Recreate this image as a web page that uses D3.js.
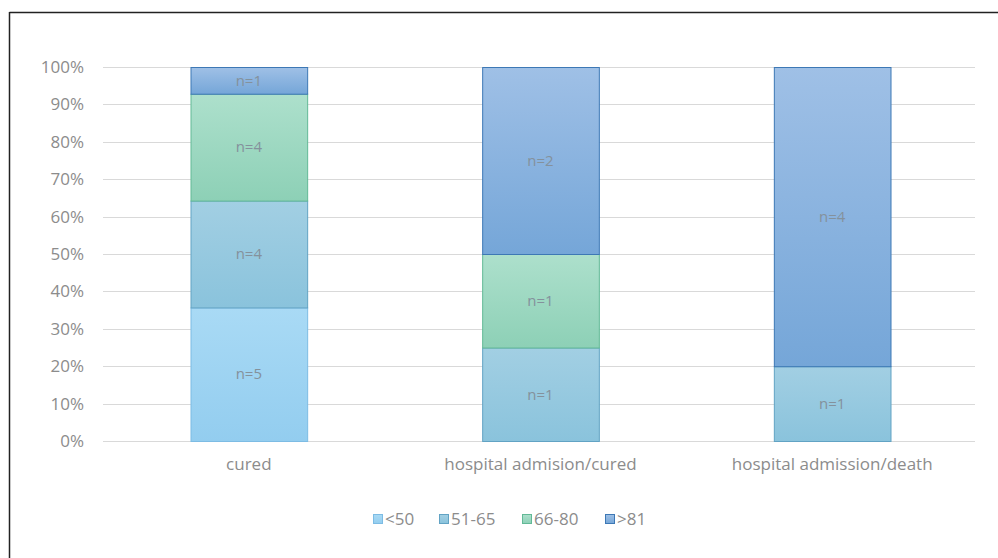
<!DOCTYPE html>
<html>
<head>
<meta charset="utf-8">
<script src="https://cdn.jsdelivr.net/npm/d3@7"></script>
<style>
  html, body { margin: 0; padding: 0; background: #fff; }
  svg { display: block; }
  text { font-family: "Open Sans", "DejaVu Sans", sans-serif; }
</style>
</head>
<body>
<svg id="chart" width="998" height="558"></svg>
<script>
// Outcome categories and patient counts per age group
const categories = ["cured", "hospital admision/cured", "hospital admission/death"];
const ageGroups = ["<50", "51-65", "66-80", ">81"];
const under50   = [5, 0, 0];
const age51to65 = [4, 1, 1];
const age66to80 = [4, 1, 0];
const over81    = [1, 2, 4];
const yTicks = [0, 0.1, 0.2, 0.3, 0.4, 0.5, 0.6, 0.7, 0.8, 0.9, 1.0];

const seriesValues = [under50, age51to65, age66to80, over81];

// Fill gradients (top / bottom) and outline per age group
const palette = [
  { top: "#a9daf5", bottom: "#93cdef", stroke: "#7dbce4" },
  { top: "#a2cfe3", bottom: "#8ac3dc", stroke: "#62a3c4" },
  { top: "#ade0cc", bottom: "#8dd0b6", stroke: "#62b996" },
  { top: "#9fc0e6", bottom: "#75a6d8", stroke: "#3d78b5" }
];

const svg = d3.select("#chart");
const W = 998, H = 558;
const margin = { left: 103, right: 20, top: 67, bottom: 117 };

// Frame lines along top and left
svg.append("line").attr("x1", 9.5).attr("x2", W).attr("y1", 12.5).attr("y2", 12.5)
  .attr("stroke", "#222").attr("stroke-width", 1.5);
svg.append("line").attr("x1", 9.5).attr("x2", 9.5).attr("y1", 12).attr("y2", H)
  .attr("stroke", "#222").attr("stroke-width", 1.5);

const defs = svg.append("defs");
palette.forEach((p, i) => {
  const g = defs.append("linearGradient").attr("id", "grad" + i)
    .attr("x1", 0).attr("y1", 0).attr("x2", 0).attr("y2", 1);
  g.append("stop").attr("offset", "0%").attr("stop-color", p.top);
  g.append("stop").attr("offset", "100%").attr("stop-color", p.bottom);
});

const x = d3.scaleBand().domain(categories)
  .range([margin.left, 978]).paddingInner(0.6).paddingOuter(0.3);
const y = d3.scaleLinear().domain([0, 1]).range([441, 67]);

// Gridlines
svg.append("g").selectAll("line").data(yTicks).join("line")
  .attr("x1", margin.left).attr("x2", 975)
  .attr("y1", d => Math.round(y(d)) + 0.5).attr("y2", d => Math.round(y(d)) + 0.5)
  .attr("stroke", "#d9d9d9").attr("stroke-width", 1);

// Y axis labels
const yAxis = d3.axisLeft(y).tickValues(yTicks).tickFormat(d3.format(".0%")).tickSize(0).tickPadding(0);
const yg = svg.append("g").attr("transform", "translate(84,0)").call(yAxis);
yg.select(".domain").remove();
yg.attr("font-size", null).attr("font-family", null);
yg.selectAll("text").attr("fill", "#8c8c8c").style("font-size", "17px");

// Stacked percentages
const rows = categories.map((c, i) => {
  const row = { category: c };
  const total = d3.sum(seriesValues, s => s[i]);
  ageGroups.forEach((g, k) => { row[g] = seriesValues[k][i] / total; row["n" + g] = seriesValues[k][i]; });
  return row;
});
const stacked = d3.stack().keys(ageGroups)(rows);

const layers = svg.append("g").selectAll("g").data(stacked).join("g")
  .attr("fill", (d, i) => `url(#grad${i})`)
  .attr("stroke", (d, i) => palette[i].stroke);

layers.selectAll("rect").data(d => d.filter(s => s[1] - s[0] > 0)).join("rect")
  .attr("x", d => x(d.data.category) + 0.5)
  .attr("width", x.bandwidth())
  .attr("y", d => y(d[1]) + 0.5)
  .attr("height", d => y(d[0]) - y(d[1]))
  .attr("stroke-width", 1);

// Count labels inside segments
stacked.forEach((layer, i) => {
  svg.append("g").selectAll("text").data(layer.filter(s => s[1] - s[0] > 0)).join("text")
    .attr("x", d => x(d.data.category) + x.bandwidth() / 2)
    .attr("y", d => (y(d[0]) + y(d[1])) / 2)
    .attr("dy", "0.35em")
    .attr("text-anchor", "middle")
    .style("font-size", "15px")
    .attr("fill", "#84919c")
    .text(d => "n=" + d.data["n" + layer.key]);
});

// Category labels
const xAxis = d3.axisBottom(x).tickSize(0).tickPadding(0);
const xg = svg.append("g").attr("transform", "translate(0,458)").call(xAxis);
xg.select(".domain").remove();
xg.attr("font-size", null).attr("font-family", null);
xg.selectAll("text").attr("fill", "#8c8c8c").style("font-size", "17px").attr("dy", "0.71em");

// Legend
const legendX = [373, 439, 522, 605];
const legend = svg.append("g").selectAll("g").data(ageGroups).join("g")
  .attr("transform", (d, i) => `translate(${legendX[i]},519)`);
legend.append("rect").attr("x", 0.5).attr("y", -4.5).attr("width", 9).attr("height", 9)
  .attr("fill", (d, i) => `url(#grad${i})`).attr("stroke", (d, i) => palette[i].stroke);
legend.append("text").attr("x", 12).attr("dy", "0.35em")
  .attr("fill", "#8c8c8c").style("font-size", "17px").text(d => d);
</script>
</body>
</html>
